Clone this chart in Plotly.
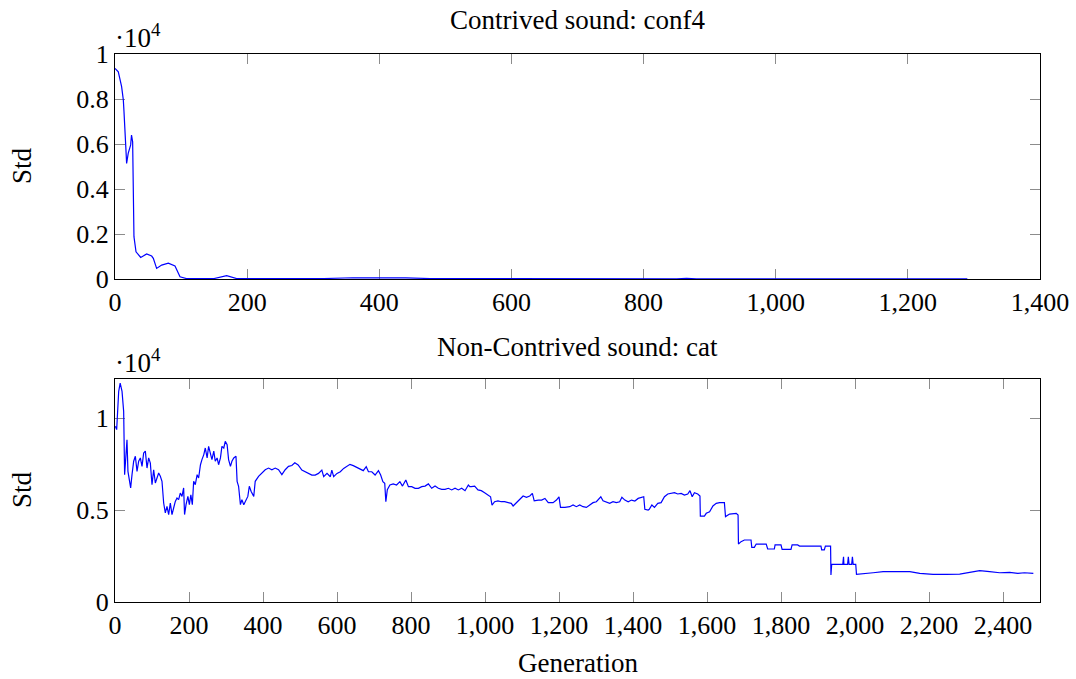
import numpy as np
import plotly.graph_objects as go

# ---------------- data ----------------
# Top panel: Contrived sound conf4 (Std values)
gen_top = [0, 5, 10, 12.6, 13.6, 16.6, 17.6, 20, 23.7, 25, 26.7, 28.7, 31.8, 38.9,
           47.9, 55.5, 58, 63, 70.6, 80.7, 90.8, 98.4, 108, 150, 169, 184, 250,
           316, 360, 400, 440, 477, 600, 850, 865, 880, 1000, 1290]
std_top = [9360, 9210, 8550, 7960, 7440, 5290, 5140, 5580, 5960, 6400, 6100, 1880,
           1210, 960, 1110, 1020, 920, 470, 620, 700, 580, 100, 20, 20, 150, 20, 10,
           20, 55, 60, 50, 20, 10, 10, 30, 10, 10, 10]

# Bottom panel: Non-Contrived sound cat (Std values)
gen_bot = [1, 4.5, 10, 14, 19, 23.4, 26, 29.7, 32.4, 35, 38.7, 42.3, 46, 50.5, 55,
           59.5, 64, 68.5, 73, 77.5, 82, 86.5, 91, 95.5, 100, 104.5, 109, 113.5, 118,
           122.5, 127, 131.5, 136, 140.5, 145, 149.5, 154, 158.5, 163, 167.5, 172,
           176.5, 181, 185.5, 188, 192, 197, 201, 205, 209, 212.6, 217, 222, 226, 231,
           235, 240, 244, 249, 253, 258, 262, 267, 271, 276, 280, 285, 289, 294, 298,
           303, 307, 312, 316, 321, 327, 330, 334, 339, 343, 348, 352, 359, 363, 368,
           375, 379, 388, 397, 406, 415, 424, 433, 442, 451, 460, 469, 478,
           486, 495, 505, 514, 523, 532, 541, 550, 559, 564, 573, 582, 586, 591, 600,
           609, 618, 627, 635, 644, 653, 662, 671, 679, 685, 694, 703, 712, 718, 724,
           729, 732, 736, 743, 752, 761, 770, 777, 786, 793, 802, 811, 820, 829, 838,
           847, 856, 865, 874, 883, 892, 901, 910, 919, 928, 937, 946, 955, 959,
           963, 972, 981, 990, 999, 1008, 1015, 1019, 1026, 1035, 1044, 1053, 1062,
           1071, 1076, 1085, 1094, 1103, 1112, 1121, 1128, 1133, 1144, 1153, 1162,
           1171, 1184, 1193, 1200, 1204, 1216, 1229, 1238, 1247, 1256, 1265, 1274,
           1283, 1292, 1301, 1313, 1319, 1328, 1337, 1346, 1355, 1364, 1370, 1378,
           1387, 1396, 1405, 1414, 1423, 1429, 1432, 1441,
           1444, 1451, 1458, 1467, 1476, 1485, 1494, 1503, 1512, 1521, 1530, 1539,
           1548, 1554, 1560, 1566, 1575, 1581, 1582, 1593, 1598, 1607, 1616, 1625,
           1634, 1647, 1650, 1661, 1670, 1679, 1684, 1685, 1692, 1701, 1719, 1721,
           1728, 1733, 1742, 1760, 1764, 1782, 1784, 1800, 1803, 1827, 1830, 1845,
           1850, 1908, 1910, 1917, 1920, 1934, 1935, 1937, 1967, 1969, 1970, 1980,
           1982, 1984, 1991, 1993, 1995, 2002, 2004, 2022, 2049, 2076, 2112, 2148,
           2175, 2211, 2247, 2283, 2310, 2337, 2364, 2391, 2418, 2440, 2458, 2482]
std_bot = [9550, 9370, 11450, 11900, 11450, 10360, 6920, 8190, 8820, 7100, 6740, 6200,
           6920, 7650, 7920, 7100, 7650, 7830, 7370, 8100, 8200, 7280, 7830, 7550,
           6380, 7190, 6470, 6740, 7010, 6830, 6560, 5380, 4840, 5200, 4750, 5380,
           4750, 5110, 5470, 5650, 5560, 5920, 5740, 6200, 4750, 5290, 5740, 5290,
           5830, 5290, 6560, 6380, 6920, 6740, 7460, 7740, 8010, 8370, 7830, 8460,
           8100, 7740, 8200, 7650, 7830, 7460, 7830, 8460, 8370, 8730, 8550, 7740,
           7370, 7650, 7830, 7920, 6560, 6290, 5290, 5560, 5290, 5470, 5740, 6290,
           6010, 5740, 6560, 6830, 7010, 7190, 7280, 7190, 7280, 7190, 6920, 7190,
           7370, 7420,
           7570, 7450, 7170, 7080, 6990, 6900, 6900, 6990, 7170, 6810, 6990, 6810,
           7170, 6810, 6990, 7080, 7260, 7390, 7480, 7410, 7320, 7230, 7140, 7350,
           7080, 7080, 6900, 7140, 6900, 6540, 6450, 5450, 6100, 6360, 6420, 6360,
           6540, 6300, 6630, 6270, 6270, 6180, 6180, 6270, 6300, 6420, 6180, 6300,
           6180, 6120, 6120, 6180, 6090, 6180, 6090, 6180, 6050, 6360, 6270,
           6270, 6300, 6090, 6050, 5940, 5820, 5720, 5270, 5450, 5500, 5450, 5450,
           5400, 5360, 5220, 5400, 5630, 5760, 5690, 5760, 5900, 5500, 5540, 5540,
           5630, 5400, 5400, 5540, 5720, 5140, 5140, 5180, 5270, 5180, 5270, 5180,
           5140, 5270, 5400, 5450, 5720, 5500, 5450, 5360, 5450, 5400, 5450, 5690,
           5540, 5450, 5540, 5490, 5630, 5690, 5720, 5040, 5000,
           5040, 5270, 5140, 5360, 5400, 5720, 5870, 5900, 5940, 5870, 5900, 5810,
           5870, 6050, 5720, 5940, 5870, 5760, 4670, 4670, 4820, 4900, 5220, 5360,
           5400, 5400, 4640, 4780, 4780, 4820, 4730, 3150, 3280, 3370, 3370, 2970,
           2970, 3150, 3150, 3150, 2880, 2880, 3100, 3100, 2860, 2860, 3100, 3100,
           3040, 3040, 2830, 2830, 3040, 3040, 1470, 2050, 2050, 2460, 2050, 2050,
           2460, 2050, 2050, 2460, 2050, 2050, 1500, 1520, 1590, 1650, 1650, 1650,
           1560, 1500, 1500, 1520, 1610, 1700, 1650, 1590, 1610, 1560, 1590, 1560]

# tick labels
top_xticks = [0, 200, 400, 600, 800, 1000, 1200, 1400]
top_xlabels = ["0", "200", "400", "600", "800", "1,000", "1,200", "1,400"]
top_yticks = [0, 0.2, 0.4, 0.6, 0.8, 1]
top_ylabels = ["0", "0.2", "0.4", "0.6", "0.8", "1"]
bot_xticks = [0, 200, 400, 600, 800, 1000, 1200, 1400, 1600, 1800, 2000, 2200, 2400]
bot_xlabels = ["0", "200", "400", "600", "800", "1,000", "1,200", "1,400", "1,600",
               "1,800", "2,000", "2,200", "2,400"]
bot_yticks = [0, 0.5, 1]
bot_ylabels = ["0", "0.5", "1"]

# ---------------- figure ----------------
W, H = 1076, 679
FONT = "Liberation Serif"
FS = 26

def px_x(p):
    return p / W

def px_y(p):
    return 1 - p / H

fig = go.Figure()
fig.add_trace(go.Scatter(x=gen_top, y=np.array(std_top) / 1e4, mode="lines",
                         line=dict(color="#0000ff", width=1.2), xaxis="x", yaxis="y",
                         showlegend=False))
fig.add_trace(go.Scatter(x=gen_bot, y=np.array(std_bot) / 1e4, mode="lines",
                         line=dict(color="#0000ff", width=1.2), xaxis="x2", yaxis="y2",
                         showlegend=False))

axis_common = dict(showline=True, linecolor="black", linewidth=1, mirror="ticks",
                   ticks="inside", ticklen=10, tickwidth=1, tickcolor="#8c8c8c",
                   showgrid=False, zeroline=False, layer="below traces",
                   automargin=False,
                   tickfont=dict(family=FONT, size=FS, color="black"))

xd = [px_x(115), px_x(1040)]
fig.update_layout(
    width=W, height=H,
    margin=dict(l=0, r=0, t=0, b=0, pad=0, autoexpand=False),
    paper_bgcolor="white", plot_bgcolor="white",
    xaxis=dict(domain=xd, range=[0, 1400], tickvals=top_xticks, ticktext=top_xlabels,
               anchor="y", **axis_common),
    yaxis=dict(domain=[px_y(279), px_y(54)], range=[0, 1], tickvals=top_yticks,
               ticktext=top_ylabels, anchor="x", **axis_common),
    xaxis2=dict(domain=xd, range=[0, 2500], tickvals=bot_xticks, ticktext=bot_xlabels,
                anchor="y2", **axis_common),
    yaxis2=dict(domain=[px_y(602), px_y(379)], range=[0, 1.212], tickvals=bot_yticks,
                ticktext=bot_ylabels, anchor="x2", **axis_common),
)

ann_font = dict(family=FONT, size=27, color="black")
annotations = [
    dict(text="Contrived sound: conf4", x=px_x(577.5), y=px_y(20)),
    dict(text="Non-Contrived sound: cat", x=px_x(577.5), y=px_y(347)),
    dict(text="Generation", x=px_x(577.5), y=px_y(663)),
    dict(text="Std", x=px_x(22), y=px_y(166), textangle=-90),
    dict(text="Std", x=px_x(22), y=px_y(490), textangle=-90),
]
for a in annotations:
    fig.add_annotation(xref="paper", yref="paper", showarrow=False, font=ann_font,
                       xanchor="center", yanchor="middle", **a)
for yy in (36, 361):
    fig.add_annotation(xref="paper", yref="paper", showarrow=False, font=ann_font,
                       text="·10<sup>4</sup>", x=px_x(113), y=px_y(yy),
                       xanchor="left", yanchor="middle")

fig.write_html("out.html")
